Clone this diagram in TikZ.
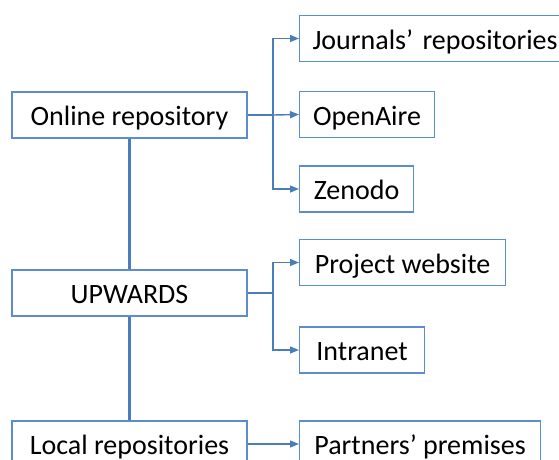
\documentclass[tikz,border=0pt]{standalone}
\usepackage{fontspec}
\setmainfont{Carlito}
\usetikzlibrary{arrows.meta}
\definecolor{repoline}{HTML}{4A7EBB}
\definecolor{repobox}{HTML}{5B8BD0}

\tikzset{
  repo/.style={rectangle, draw=repobox, line width=1.1pt, minimum height=46pt,
    inner sep=0pt, text height=23.5pt, text depth=2.5pt,
    font=\fontsize{28}{33}\selectfont},
  target/.style={repo, anchor=west},
  trunk/.style={draw=repoline, line width=3pt},
  branch/.style={draw=repoline, line width=1.4pt},
  feed/.style={branch, -{Triangle[length=9pt,width=7pt]}}
}

\begin{document}
\begin{tikzpicture}[x=1pt, y=-1pt]
  \useasboundingbox (0,0) rectangle (559,459);
  % storage levels
  \node[repo, minimum width=235pt] (online) at (129.5,115) {Online repository};
  \node[repo, minimum width=235pt] (upwards) at (129.5,293) {UPWARDS};
  \node[repo, minimum width=235pt] (local) at (129.5,444) {Local repositories};

  % destinations
  \node[target, minimum width=272pt, align=left, text width=246pt] (journals) at (299,38.5) {Journals’ repositories};
  \node[target, minimum width=135pt] (openaire) at (299,114.5) {OpenAire};
  \node[target, minimum width=114pt] (zenodo) at (299,189) {Zenodo};
  \node[target, minimum width=206pt] (website) at (299,262.5) {Project website};
  \node[target, minimum width=125pt] (intranet) at (299,350) {Intranet};
  \node[target, minimum width=241pt] (partners) at (299,444) {Partners’ premises};

  \coordinate (fork1) at (273,115);
  \coordinate (fork2) at (273,293);

  \draw[trunk] (online) -- (upwards);
  \draw[trunk] (upwards) -- (local);

  \draw[branch] (online.east) -- (fork1);
  \draw[feed] (fork1) |- (journals.west);
  \draw[feed] (fork1) -- (openaire.west);
  \draw[feed] (fork1) |- (zenodo.west);

  \draw[branch] (upwards.east) -- (fork2);
  \draw[feed] (fork2) |- (website.west);
  \draw[feed] (fork2) |- (intranet.west);

  \draw[feed] (local.east) -- (partners.west);
\end{tikzpicture}
\end{document}
